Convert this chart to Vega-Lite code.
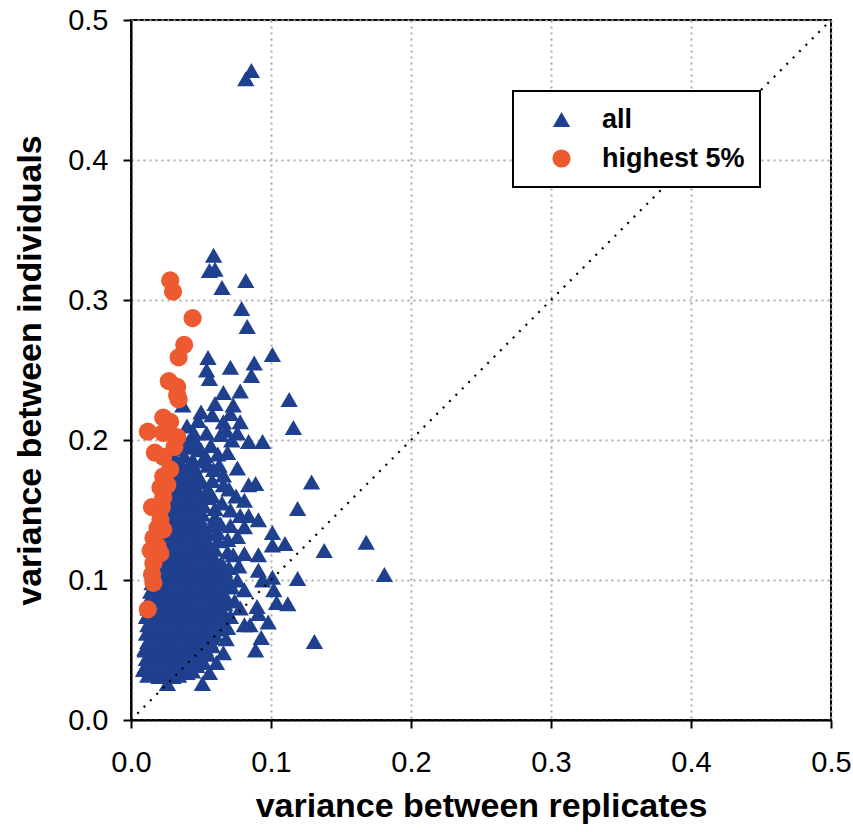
{
"$schema": "https://vega.github.io/schema/vega-lite/v6.json",
"width": 700, "height": 700,
"autosize": "none",
"padding": {"left": 131, "top": 20, "right": 22, "bottom": 112},
"background": "white",
"config": {
 "view": {"stroke": "black", "strokeWidth": 2},
 "font": "Liberation Sans",
 "legend": {"strokeColor": "black", "strokeWidth": 2, "fillColor": "white"},
 "axis": {"domainColor": "black", "domainWidth": 2, "tickColor": "black", "tickWidth": 2, "tickSize": 8,
  "labelFontSize": 29, "labelColor": "black", "labelFont": "Liberation Sans",
  "titleFontSize": 34, "titleFontWeight": "bold", "titleColor": "black", "titleFont": "Liberation Sans",
  "gridColor": "#a8a8a8", "gridDash": [2, 4], "gridWidth": 2}
},
"layer": [
 {
  "data": {"values": [
{"g":"all","x":0.082,"y":0.458},{"g":"all","x":0.086,"y":0.464},
{"g":"all","x":0.059,"y":0.332},{"g":"all","x":0.056,"y":0.321},{"g":"all","x":0.060,"y":0.322},{"g":"all","x":0.065,"y":0.309},{"g":"all","x":0.082,"y":0.314},{"g":"all","x":0.079,"y":0.294},{"g":"all","x":0.083,"y":0.281},{"g":"all","x":0.101,"y":0.261},{"g":"all","x":0.055,"y":0.259},{"g":"all","x":0.054,"y":0.25},{"g":"all","x":0.056,"y":0.244},{"g":"all","x":0.071,"y":0.252},{"g":"all","x":0.088,"y":0.255},{"g":"all","x":0.086,"y":0.246},{"g":"all","x":0.066,"y":0.234},{"g":"all","x":0.078,"y":0.235},{"g":"all","x":0.113,"y":0.229},{"g":"all","x":0.037,"y":0.225},{"g":"all","x":0.060,"y":0.226},{"g":"all","x":0.073,"y":0.225},
{"g":"all","x":0.048,"y":0.214},{"g":"all","x":0.058,"y":0.218},{"g":"all","x":0.066,"y":0.213},{"g":"all","x":0.071,"y":0.219},{"g":"all","x":0.078,"y":0.213},{"g":"all","x":0.116,"y":0.209},{"g":"all","x":0.041,"y":0.199},{"g":"all","x":0.054,"y":0.205},{"g":"all","x":0.064,"y":0.204},{"g":"all","x":0.076,"y":0.205},{"g":"all","x":0.084,"y":0.199},{"g":"all","x":0.094,"y":0.199},{"g":"all","x":0.044,"y":0.186},{"g":"all","x":0.053,"y":0.189},{"g":"all","x":0.069,"y":0.191},{"g":"all","x":0.059,"y":0.179},{"g":"all","x":0.066,"y":0.175},{"g":"all","x":0.076,"y":0.18},{"g":"all","x":0.049,"y":0.173},{"g":"all","x":0.084,"y":0.168},{"g":"all","x":0.089,"y":0.169},{"g":"all","x":0.066,"y":0.168},{"g":"all","x":0.129,"y":0.17},{"g":"all","x":0.119,"y":0.151},{"g":"all","x":0.081,"y":0.157},{"g":"all","x":0.071,"y":0.15},{"g":"all","x":0.078,"y":0.146},{"g":"all","x":0.084,"y":0.146},{"g":"all","x":0.091,"y":0.143},{"g":"all","x":0.071,"y":0.139},{"g":"all","x":0.081,"y":0.138},{"g":"all","x":0.101,"y":0.134},{"g":"all","x":0.101,"y":0.125},{"g":"all","x":0.11,"y":0.126},{"g":"all","x":0.069,"y":0.129},{"g":"all","x":0.076,"y":0.131},{"g":"all","x":0.091,"y":0.118},{"g":"all","x":0.081,"y":0.119},{"g":"all","x":0.069,"y":0.12},{"g":"all","x":0.138,"y":0.121},{"g":"all","x":0.168,"y":0.127},{"g":"all","x":0.181,"y":0.104},{"g":"all","x":0.119,"y":0.101},{"g":"all","x":0.091,"y":0.107},{"g":"all","x":0.101,"y":0.102},{"g":"all","x":0.094,"y":0.1},{"g":"all","x":0.076,"y":0.1},{"g":"all","x":0.081,"y":0.093},{"g":"all","x":0.102,"y":0.093},{"g":"all","x":0.104,"y":0.084},{"g":"all","x":0.112,"y":0.083},{"g":"all","x":0.09,"y":0.081},{"g":"all","x":0.091,"y":0.076},{"g":"all","x":0.098,"y":0.07},{"g":"all","x":0.085,"y":0.068},{"g":"all","x":0.081,"y":0.068},{"g":"all","x":0.093,"y":0.059},{"g":"all","x":0.089,"y":0.05},{"g":"all","x":0.131,"y":0.056},{"g":"all","x":0.071,"y":0.074},{"g":"all","x":0.069,"y":0.066},{"g":"all","x":0.066,"y":0.048},{"g":"all","x":0.061,"y":0.041},{"g":"all","x":0.056,"y":0.034},{"g":"all","x":0.051,"y":0.026},{"g":"all","x":0.026,"y":0.026},{"g":"all","x":0.03,"y":0.031},{"g":"all","x":0.009,"y":0.036},{"g":"all","x":0.01,"y":0.051},{"g":"all","x":0.073,"y":0.118},{"g":"all","x":0.074,"y":0.085},{"g":"all","x":0.078,"y":0.08},{"g":"all","x":0.068,"y":0.058},{"g":"all","x":0.072,"y":0.095},{"g":"all","x":0.077,"y":0.11},{"g":"all","x":0.064,"y":0.14},{"g":"all","x":0.058,"y":0.16},{"g":"all","x":0.062,"y":0.19},{"g":"all","x":0.05,"y":0.22},
{"g":"all","x":0.055,"y":0.165},{"g":"all","x":0.06,"y":0.145},{"g":"all","x":0.065,"y":0.155},{"g":"all","x":0.062,"y":0.128},{"g":"all","x":0.066,"y":0.11},{"g":"all","x":0.07,"y":0.1},{"g":"all","x":0.068,"y":0.086},{"g":"all","x":0.052,"y":0.185},{"g":"all","x":0.047,"y":0.195},{"g":"all","x":0.057,"y":0.196},{"g":"all","x":0.063,"y":0.182},{"g":"all","x":0.07,"y":0.165},{"g":"all","x":0.075,"y":0.16},{"g":"all","x":0.072,"y":0.2},{"g":"all","x":0.068,"y":0.207},{"g":"all","x":0.04,"y":0.21},{"g":"all","x":0.045,"y":0.205},
{"g":"all","x":0.012,"y":0.032},{"g":"all","x":0.02,"y":0.031},{"g":"all","x":0.028,"y":0.033},{"g":"all","x":0.034,"y":0.032},{"g":"all","x":0.04,"y":0.034},
{"g":"all","x":0.01,"y":0.038},{"g":"all","x":0.016,"y":0.039},{"g":"all","x":0.022,"y":0.037},{"g":"all","x":0.029,"y":0.038},{"g":"all","x":0.035,"y":0.039},{"g":"all","x":0.042,"y":0.037},{"g":"all","x":0.047,"y":0.039},
{"g":"all","x":0.011,"y":0.044},{"g":"all","x":0.017,"y":0.045},{"g":"all","x":0.024,"y":0.043},{"g":"all","x":0.03,"y":0.044},{"g":"all","x":0.037,"y":0.045},{"g":"all","x":0.043,"y":0.043},{"g":"all","x":0.05,"y":0.044},
{"g":"all","x":0.01,"y":0.05},{"g":"all","x":0.016,"y":0.051},{"g":"all","x":0.022,"y":0.049},{"g":"all","x":0.028,"y":0.05},{"g":"all","x":0.034,"y":0.051},{"g":"all","x":0.04,"y":0.049},{"g":"all","x":0.046,"y":0.05},{"g":"all","x":0.053,"y":0.051},
{"g":"all","x":0.012,"y":0.056},{"g":"all","x":0.018,"y":0.057},{"g":"all","x":0.025,"y":0.055},{"g":"all","x":0.031,"y":0.056},{"g":"all","x":0.037,"y":0.057},{"g":"all","x":0.043,"y":0.055},{"g":"all","x":0.049,"y":0.056},{"g":"all","x":0.056,"y":0.057},
{"g":"all","x":0.011,"y":0.062},{"g":"all","x":0.017,"y":0.063},{"g":"all","x":0.023,"y":0.061},{"g":"all","x":0.029,"y":0.062},{"g":"all","x":0.035,"y":0.063},{"g":"all","x":0.041,"y":0.061},{"g":"all","x":0.048,"y":0.062},{"g":"all","x":0.054,"y":0.063},{"g":"all","x":0.06,"y":0.061},
{"g":"all","x":0.012,"y":0.068},{"g":"all","x":0.018,"y":0.069},{"g":"all","x":0.024,"y":0.067},{"g":"all","x":0.03,"y":0.068},{"g":"all","x":0.036,"y":0.069},{"g":"all","x":0.042,"y":0.067},{"g":"all","x":0.049,"y":0.068},{"g":"all","x":0.055,"y":0.069},{"g":"all","x":0.062,"y":0.067},
{"g":"all","x":0.011,"y":0.074},{"g":"all","x":0.017,"y":0.075},{"g":"all","x":0.023,"y":0.073},{"g":"all","x":0.029,"y":0.074},{"g":"all","x":0.035,"y":0.075},{"g":"all","x":0.041,"y":0.073},{"g":"all","x":0.047,"y":0.074},{"g":"all","x":0.053,"y":0.075},{"g":"all","x":0.059,"y":0.073},{"g":"all","x":0.065,"y":0.074},
{"g":"all","x":0.012,"y":0.08},{"g":"all","x":0.018,"y":0.081},{"g":"all","x":0.024,"y":0.079},{"g":"all","x":0.03,"y":0.08},{"g":"all","x":0.037,"y":0.081},{"g":"all","x":0.043,"y":0.079},{"g":"all","x":0.049,"y":0.08},{"g":"all","x":0.056,"y":0.081},{"g":"all","x":0.062,"y":0.079},
{"g":"all","x":0.013,"y":0.086},{"g":"all","x":0.019,"y":0.087},{"g":"all","x":0.025,"y":0.085},{"g":"all","x":0.031,"y":0.086},{"g":"all","x":0.037,"y":0.087},{"g":"all","x":0.044,"y":0.085},{"g":"all","x":0.05,"y":0.086},{"g":"all","x":0.057,"y":0.087},{"g":"all","x":0.064,"y":0.085},
{"g":"all","x":0.014,"y":0.092},{"g":"all","x":0.02,"y":0.093},{"g":"all","x":0.026,"y":0.091},{"g":"all","x":0.032,"y":0.092},{"g":"all","x":0.038,"y":0.093},{"g":"all","x":0.045,"y":0.091},{"g":"all","x":0.051,"y":0.092},{"g":"all","x":0.058,"y":0.093},{"g":"all","x":0.066,"y":0.091},
{"g":"all","x":0.015,"y":0.098},{"g":"all","x":0.021,"y":0.099},{"g":"all","x":0.027,"y":0.097},{"g":"all","x":0.033,"y":0.098},{"g":"all","x":0.04,"y":0.099},{"g":"all","x":0.046,"y":0.097},{"g":"all","x":0.052,"y":0.098},{"g":"all","x":0.06,"y":0.099},{"g":"all","x":0.068,"y":0.097},
{"g":"all","x":0.016,"y":0.104},{"g":"all","x":0.022,"y":0.105},{"g":"all","x":0.028,"y":0.103},{"g":"all","x":0.034,"y":0.104},{"g":"all","x":0.041,"y":0.105},{"g":"all","x":0.047,"y":0.103},{"g":"all","x":0.054,"y":0.104},{"g":"all","x":0.062,"y":0.105},
{"g":"all","x":0.017,"y":0.11},{"g":"all","x":0.023,"y":0.111},{"g":"all","x":0.029,"y":0.109},{"g":"all","x":0.035,"y":0.11},{"g":"all","x":0.042,"y":0.111},{"g":"all","x":0.049,"y":0.109},{"g":"all","x":0.056,"y":0.11},{"g":"all","x":0.064,"y":0.111},{"g":"all","x":0.07,"y":0.109},
{"g":"all","x":0.018,"y":0.116},{"g":"all","x":0.024,"y":0.117},{"g":"all","x":0.03,"y":0.115},{"g":"all","x":0.036,"y":0.116},{"g":"all","x":0.043,"y":0.117},{"g":"all","x":0.05,"y":0.115},{"g":"all","x":0.058,"y":0.116},
{"g":"all","x":0.02,"y":0.122},{"g":"all","x":0.026,"y":0.123},{"g":"all","x":0.032,"y":0.121},{"g":"all","x":0.038,"y":0.122},{"g":"all","x":0.045,"y":0.123},{"g":"all","x":0.052,"y":0.121},{"g":"all","x":0.06,"y":0.122},
{"g":"all","x":0.021,"y":0.128},{"g":"all","x":0.027,"y":0.129},{"g":"all","x":0.033,"y":0.127},{"g":"all","x":0.039,"y":0.128},{"g":"all","x":0.046,"y":0.129},{"g":"all","x":0.053,"y":0.127},
{"g":"all","x":0.022,"y":0.134},{"g":"all","x":0.028,"y":0.135},{"g":"all","x":0.034,"y":0.133},{"g":"all","x":0.04,"y":0.134},{"g":"all","x":0.047,"y":0.135},{"g":"all","x":0.055,"y":0.133},{"g":"all","x":0.062,"y":0.134},
{"g":"all","x":0.023,"y":0.14},{"g":"all","x":0.029,"y":0.141},{"g":"all","x":0.035,"y":0.139},{"g":"all","x":0.042,"y":0.14},{"g":"all","x":0.05,"y":0.141},{"g":"all","x":0.058,"y":0.139},
{"g":"all","x":0.024,"y":0.146},{"g":"all","x":0.03,"y":0.147},{"g":"all","x":0.036,"y":0.145},{"g":"all","x":0.043,"y":0.146},{"g":"all","x":0.051,"y":0.147},
{"g":"all","x":0.024,"y":0.152},{"g":"all","x":0.031,"y":0.153},{"g":"all","x":0.037,"y":0.151},{"g":"all","x":0.044,"y":0.152},{"g":"all","x":0.052,"y":0.153},{"g":"all","x":0.06,"y":0.151},
{"g":"all","x":0.025,"y":0.158},{"g":"all","x":0.032,"y":0.159},{"g":"all","x":0.038,"y":0.157},{"g":"all","x":0.046,"y":0.158},{"g":"all","x":0.054,"y":0.159},
{"g":"all","x":0.026,"y":0.164},{"g":"all","x":0.033,"y":0.165},{"g":"all","x":0.04,"y":0.163},{"g":"all","x":0.048,"y":0.164},
{"g":"all","x":0.027,"y":0.17},{"g":"all","x":0.034,"y":0.171},{"g":"all","x":0.041,"y":0.169},{"g":"all","x":0.05,"y":0.17},{"g":"all","x":0.058,"y":0.171},
{"g":"all","x":0.028,"y":0.176},{"g":"all","x":0.035,"y":0.177},{"g":"all","x":0.043,"y":0.175},
{"g":"all","x":0.029,"y":0.182},{"g":"all","x":0.036,"y":0.183},{"g":"all","x":0.045,"y":0.181},{"g":"all","x":0.055,"y":0.182},
{"g":"all","x":0.031,"y":0.188},{"g":"all","x":0.038,"y":0.189},
{"g":"all","x":0.033,"y":0.194},{"g":"all","x":0.04,"y":0.195},{"g":"all","x":0.05,"y":0.193},
{"g":"all","x":0.035,"y":0.2},{"g":"all","x":0.045,"y":0.201},
{"g":"all","x":0.015,"y":0.035},{"g":"all","x":0.025,"y":0.035},{"g":"all","x":0.031,"y":0.035},{"g":"all","x":0.038,"y":0.035},{"g":"all","x":0.044,"y":0.035},
{"g":"all","x":0.013,"y":0.041},{"g":"all","x":0.02,"y":0.041},{"g":"all","x":0.027,"y":0.041},{"g":"all","x":0.033,"y":0.041},{"g":"all","x":0.039,"y":0.041},{"g":"all","x":0.045,"y":0.041},{"g":"all","x":0.052,"y":0.041},
{"g":"all","x":0.013,"y":0.047},{"g":"all","x":0.019,"y":0.047},{"g":"all","x":0.027,"y":0.047},{"g":"all","x":0.033,"y":0.047},{"g":"all","x":0.04,"y":0.047},{"g":"all","x":0.047,"y":0.047},{"g":"all","x":0.055,"y":0.047},
{"g":"all","x":0.013,"y":0.053},{"g":"all","x":0.019,"y":0.053},{"g":"all","x":0.025,"y":0.053},{"g":"all","x":0.031,"y":0.053},{"g":"all","x":0.037,"y":0.053},{"g":"all","x":0.043,"y":0.053},{"g":"all","x":0.05,"y":0.053},{"g":"all","x":0.058,"y":0.053},
{"g":"all","x":0.014,"y":0.059},{"g":"all","x":0.02,"y":0.059},{"g":"all","x":0.027,"y":0.059},{"g":"all","x":0.033,"y":0.059},{"g":"all","x":0.04,"y":0.059},{"g":"all","x":0.046,"y":0.059},{"g":"all","x":0.052,"y":0.059},{"g":"all","x":0.058,"y":0.059},
{"g":"all","x":0.014,"y":0.065},{"g":"all","x":0.02,"y":0.065},{"g":"all","x":0.026,"y":0.065},{"g":"all","x":0.032,"y":0.065},{"g":"all","x":0.038,"y":0.065},{"g":"all","x":0.045,"y":0.065},{"g":"all","x":0.051,"y":0.065},{"g":"all","x":0.058,"y":0.065},{"g":"all","x":0.064,"y":0.065},
{"g":"all","x":0.014,"y":0.071},{"g":"all","x":0.02,"y":0.071},{"g":"all","x":0.026,"y":0.071},{"g":"all","x":0.032,"y":0.071},{"g":"all","x":0.039,"y":0.071},{"g":"all","x":0.045,"y":0.071},{"g":"all","x":0.051,"y":0.071},{"g":"all","x":0.058,"y":0.071},{"g":"all","x":0.064,"y":0.071},
{"g":"all","x":0.014,"y":0.077},{"g":"all","x":0.02,"y":0.077},{"g":"all","x":0.027,"y":0.077},{"g":"all","x":0.033,"y":0.077},{"g":"all","x":0.04,"y":0.077},{"g":"all","x":0.046,"y":0.077},{"g":"all","x":0.052,"y":0.077},{"g":"all","x":0.059,"y":0.077},{"g":"all","x":0.066,"y":0.077},
{"g":"all","x":0.015,"y":0.083},{"g":"all","x":0.021,"y":0.083},{"g":"all","x":0.027,"y":0.083},{"g":"all","x":0.034,"y":0.083},{"g":"all","x":0.04,"y":0.083},{"g":"all","x":0.046,"y":0.083},{"g":"all","x":0.053,"y":0.083},{"g":"all","x":0.06,"y":0.083},{"g":"all","x":0.067,"y":0.083},
{"g":"all","x":0.016,"y":0.089},{"g":"all","x":0.022,"y":0.089},{"g":"all","x":0.028,"y":0.089},{"g":"all","x":0.034,"y":0.089},{"g":"all","x":0.041,"y":0.089},{"g":"all","x":0.047,"y":0.089},{"g":"all","x":0.054,"y":0.089},{"g":"all","x":0.061,"y":0.089},
{"g":"all","x":0.017,"y":0.095},{"g":"all","x":0.023,"y":0.095},{"g":"all","x":0.029,"y":0.095},{"g":"all","x":0.035,"y":0.095},{"g":"all","x":0.042,"y":0.095},{"g":"all","x":0.048,"y":0.095},{"g":"all","x":0.055,"y":0.095},{"g":"all","x":0.063,"y":0.095},
{"g":"all","x":0.018,"y":0.101},{"g":"all","x":0.024,"y":0.101},{"g":"all","x":0.031,"y":0.101},{"g":"all","x":0.037,"y":0.101},{"g":"all","x":0.044,"y":0.101},{"g":"all","x":0.05,"y":0.101},{"g":"all","x":0.057,"y":0.101},{"g":"all","x":0.065,"y":0.101},
{"g":"all","x":0.019,"y":0.107},{"g":"all","x":0.025,"y":0.107},{"g":"all","x":0.032,"y":0.107},{"g":"all","x":0.038,"y":0.107},{"g":"all","x":0.044,"y":0.107},{"g":"all","x":0.051,"y":0.107},{"g":"all","x":0.059,"y":0.107},{"g":"all","x":0.067,"y":0.107},
{"g":"all","x":0.02,"y":0.113},{"g":"all","x":0.026,"y":0.113},{"g":"all","x":0.033,"y":0.113},{"g":"all","x":0.039,"y":0.113},{"g":"all","x":0.046,"y":0.113},{"g":"all","x":0.053,"y":0.113},{"g":"all","x":0.061,"y":0.113},
{"g":"all","x":0.022,"y":0.119},{"g":"all","x":0.028,"y":0.119},{"g":"all","x":0.035,"y":0.119},{"g":"all","x":0.041,"y":0.119},{"g":"all","x":0.048,"y":0.119},{"g":"all","x":0.055,"y":0.119},
{"g":"all","x":0.023,"y":0.125},{"g":"all","x":0.029,"y":0.125},{"g":"all","x":0.036,"y":0.125},{"g":"all","x":0.042,"y":0.125},{"g":"all","x":0.049,"y":0.125},{"g":"all","x":0.056,"y":0.125},
{"g":"all","x":0.024,"y":0.131},{"g":"all","x":0.03,"y":0.131},{"g":"all","x":0.037,"y":0.131},{"g":"all","x":0.043,"y":0.131},{"g":"all","x":0.05,"y":0.131},
{"g":"all","x":0.025,"y":0.137},{"g":"all","x":0.032,"y":0.137},{"g":"all","x":0.038,"y":0.137},{"g":"all","x":0.045,"y":0.137},{"g":"all","x":0.053,"y":0.137},
{"g":"all","x":0.026,"y":0.143},{"g":"all","x":0.033,"y":0.143},{"g":"all","x":0.039,"y":0.143},{"g":"all","x":0.046,"y":0.143},
{"g":"all","x":0.027,"y":0.149},{"g":"all","x":0.034,"y":0.149},{"g":"all","x":0.04,"y":0.149},{"g":"all","x":0.048,"y":0.149},
{"g":"all","x":0.028,"y":0.155},{"g":"all","x":0.035,"y":0.155},{"g":"all","x":0.042,"y":0.155},{"g":"all","x":0.05,"y":0.155},
{"g":"all","x":0.029,"y":0.161},{"g":"all","x":0.036,"y":0.161},{"g":"all","x":0.044,"y":0.161},
{"g":"all","x":0.03,"y":0.167},{"g":"all","x":0.037,"y":0.167},{"g":"all","x":0.045,"y":0.167},
{"g":"all","x":0.031,"y":0.173},{"g":"all","x":0.038,"y":0.173},{"g":"all","x":0.047,"y":0.173},
{"g":"all","x":0.032,"y":0.179},{"g":"all","x":0.04,"y":0.179},
{"g":"highest 5%","x":0.028,"y":0.314},{"g":"highest 5%","x":0.030,"y":0.306},{"g":"highest 5%","x":0.044,"y":0.287},{"g":"highest 5%","x":0.038,"y":0.268},{"g":"highest 5%","x":0.034,"y":0.259},{"g":"highest 5%","x":0.027,"y":0.242},{"g":"highest 5%","x":0.033,"y":0.238},{"g":"highest 5%","x":0.033,"y":0.232},{"g":"highest 5%","x":0.034,"y":0.229},
{"g":"highest 5%","x":0.023,"y":0.216},{"g":"highest 5%","x":0.028,"y":0.213},{"g":"highest 5%","x":0.012,"y":0.206},{"g":"highest 5%","x":0.023,"y":0.205},{"g":"highest 5%","x":0.033,"y":0.202},{"g":"highest 5%","x":0.031,"y":0.195},{"g":"highest 5%","x":0.017,"y":0.191},{"g":"highest 5%","x":0.023,"y":0.188},{"g":"highest 5%","x":0.028,"y":0.179},{"g":"highest 5%","x":0.023,"y":0.174},{"g":"highest 5%","x":0.021,"y":0.166},{"g":"highest 5%","x":0.026,"y":0.168},{"g":"highest 5%","x":0.023,"y":0.159},{"g":"highest 5%","x":0.015,"y":0.152},{"g":"highest 5%","x":0.022,"y":0.152},{"g":"highest 5%","x":0.021,"y":0.143},{"g":"highest 5%","x":0.019,"y":0.137},{"g":"highest 5%","x":0.023,"y":0.136},{"g":"highest 5%","x":0.016,"y":0.13},{"g":"highest 5%","x":0.019,"y":0.124},{"g":"highest 5%","x":0.021,"y":0.119},{"g":"highest 5%","x":0.014,"y":0.121},
{"g":"highest 5%","x":0.016,"y":0.112},{"g":"highest 5%","x":0.015,"y":0.104},{"g":"highest 5%","x":0.016,"y":0.098},{"g":"highest 5%","x":0.012,"y":0.079}
  ]},
  "mark": {"type": "point", "filled": true, "opacity": 1, "strokeWidth": 0},
  "encoding": {
   "x": {"field": "x", "type": "quantitative", "scale": {"domain": [0, 0.5], "nice": false},
    "axis": {"values": [0, 0.1, 0.2, 0.3, 0.4, 0.5], "format": ".1f", "labelPadding": 20, "title": "variance between replicates", "titlePadding": 12, "labelFlush": false}},
   "y": {"field": "y", "type": "quantitative", "scale": {"domain": [0, 0.5], "nice": false},
    "axis": {"values": [0, 0.1, 0.2, 0.3, 0.4, 0.5], "format": ".1f", "labelPadding": 15, "title": "variance between individuals", "titlePadding": 20, "labelFlush": false}},
   "color": {"field": "g", "type": "nominal", "scale": {"domain": ["all", "highest 5%"], "range": ["#1f3f8f", "#ee5a2f"]},
    "legend": {"title": null, "orient": "none", "legendX": 382, "legendY": 71, "padding": 15,
     "labelFontSize": 27, "labelFontWeight": "bold", "labelColor": "black", "labelFont": "Liberation Sans", "symbolOffset": 20, "labelOffset": 27, "rowPadding": 11}},
   "shape": {"field": "g", "type": "nominal", "scale": {"domain": ["all", "highest 5%"], "range": ["triangle-up", "circle"]}},
   "size": {"field": "g", "type": "nominal", "scale": {"domain": ["all", "highest 5%"], "range": [300, 330]}}
  }
 },
 {
  "data": {"values": [{"xs": 0, "ys": 0, "xe": 0.5, "ye": 0.5}]},
  "mark": {"type": "rule", "color": "black", "strokeWidth": 2.2, "strokeDash": [2, 7]},
  "encoding": {
   "x": {"field": "xs", "type": "quantitative"},
   "y": {"field": "ys", "type": "quantitative"},
   "x2": {"field": "xe"},
   "y2": {"field": "ye"}
  }
 }
]
}
